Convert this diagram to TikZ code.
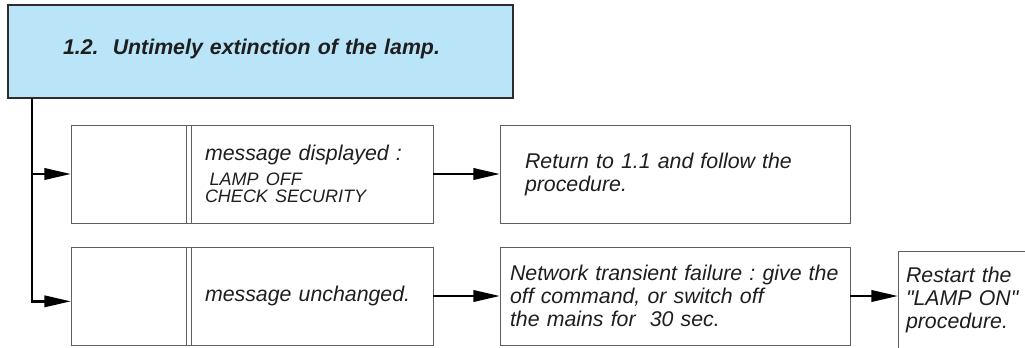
\documentclass[tikz,border=0pt]{standalone}
\usepackage{fontspec}
\setmainfont{Liberation Sans}
\definecolor{headblue}{RGB}{186, 228, 248}
\definecolor{headline}{RGB}{45, 45, 45}
\definecolor{boxline}{RGB}{95, 95, 95}
\definecolor{inkdark}{RGB}{30, 30, 30}
\usetikzlibrary{arrows.meta, positioning}

\begin{document}
\frenchspacing
\begin{tikzpicture}[x=0.75pt, y=-0.75pt, >={Triangle[length=20pt, width=8.5pt]},
    every node/.style={font=\itshape\fontsize{16pt}{17.25pt}\selectfont, text=inkdark},
    cell/.style={rectangle, draw=boxline, line width=0.75pt, minimum height=73.5pt, align=left, outer sep=0pt},
    keybox/.style={cell, minimum width=90pt},
    msgbox/.style={cell, minimum width=185.25pt, inner xsep=14.25pt, text width=156.75pt},
    flow/.style={->, line width=2pt, black}]
      \useasboundingbox (0,0) rectangle (1025,347);
      \clip (0,0) rectangle (1025,347);
      \node (hdr) [rectangle, draw=headline, line width=1.5pt, fill=headblue, outer sep=0pt, minimum width=378.75pt, minimum height=69.75pt, inner xsep=41.25pt, text width=296.25pt, align=left, anchor=north west, font=\bfseries\itshape\fontsize{16pt}{17.25pt}\selectfont] at (8,5) {\raisebox{2.25pt}[\height][\depth]{1.2.\ \ Untimely extinction of the lamp.}};
      \node (keyA) [keybox, anchor=north west] at ([xshift=47.25pt, yshift=-20.25pt]hdr.south west) {};
      \node (msgA) [msgbox, right=-3.75pt of keyA] {message displayed :\\[1.5pt]{\fontsize{13.5pt}{12pt}\selectfont\hspace{3.5pt}LAMP OFF}\\[-4.5pt]{\fontsize{13.5pt}{12pt}\selectfont CHECK SECURITY}};
      \node (keyB) [keybox, below=18pt of keyA] {};
      \node (msgB) [msgbox, right=-3.75pt of keyB] {message unchanged.};
      \node (retA) [cell, minimum width=262.5pt, inner xsep=18.75pt, text width=225pt, right=50.25pt of msgA] {Return to 1.1 and follow the\\procedure.};
      \node (netB) [cell, minimum width=262.5pt, inner xsep=7.5pt, text width=247.5pt, right=50.25pt of msgB] {Network transient failure : give the\\off command, or switch off\\the mains for\ \ 30 sec.};
      \node (restart) [cell, minimum width=140pt, inner xsep=6pt, text width=128pt, right=36pt of netB, yshift=-3pt] {Restart the\\\textquotedbl LAMP ON\textquotedbl\\procedure.};

      \coordinate (drop) at ([xshift=18pt]hdr.south west);
      \draw[flow] (drop) |- ([yshift=-4pt]keyB.west);
      \draw[flow] (drop |- keyA.west) -- (keyA.west);
      \draw[flow] (msgA) -- (retA);
      \draw[flow] (msgB) -- (netB);
      \draw[flow] (netB.east) -- (netB.east -| restart.west);
    \end{tikzpicture}
\end{document}
